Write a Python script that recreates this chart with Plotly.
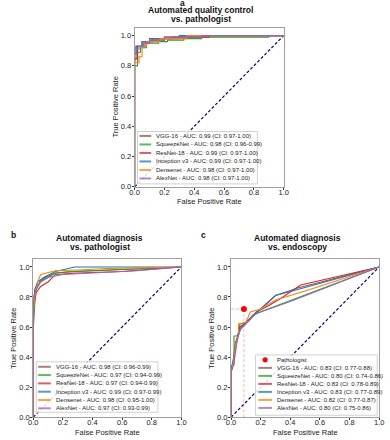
import plotly.graph_objects as go

W, H = 390, 440

def px(x):
    return x / W

def py(y):
    return 1 - y / H

# ---------------- data ----------------
models = ["VGG-16", "SqueezeNet", "ResNet-18", "Inception v3", "Densenet", "AlexNet"]
colors = ["#8c564b", "#2ca02c", "#d62728", "#1f77b4", "#ff7f0e", "#9467bd"]

a_labels = ["VGG-16 - AUC: 0.99 (CI: 0.97-1.00)",
            "SqueezeNet - AUC: 0.98 (CI: 0.96-0.99)",
            "ResNet-18 - AUC: 0.99 (CI: 0.97-1.00)",
            "Inception v3 - AUC: 0.99 (CI: 0.97-1.00)",
            "Densenet - AUC: 0.98 (CI: 0.97-1.00)",
            "AlexNet - AUC: 0.98 (CI: 0.97-1.00)"]
b_labels = ["VGG-16 - AUC: 0.98 (CI: 0.96-0.99)",
            "SqueezeNet - AUC: 0.97 (CI: 0.94-0.99)",
            "ResNet-18 - AUC: 0.97 (CI: 0.94-0.99)",
            "Inception v3 - AUC: 0.99 (CI: 0.97-0.99)",
            "Densenet - AUC: 0.98 (CI: 0.95-1.00)",
            "AlexNet - AUC: 0.97 (CI: 0.93-0.99)"]
c_labels = ["VGG-16 - AUC: 0.83 (CI: 0.77-0.88)",
            "SqueezeNet - AUC: 0.80 (CI: 0.74-0.86)",
            "ResNet-18 - AUC: 0.83 (CI: 0.78-0.89)",
            "Inception v3 - AUC: 0.83 (CI: 0.77-0.89)",
            "Densenet - AUC: 0.82 (CI: 0.77-0.87)",
            "AlexNet - AUC: 0.80 (CI: 0.75-0.86)"]

# panel a: quality control ROC (step curves)
a_fpr = [
    [0, 0, 0.01, 0.01, 0.05, 0.05, 0.12, 0.12, 0.25, 0.25, 0.45, 0.45, 1],
    [0, 0, 0.02, 0.02, 0.04, 0.04, 0.08, 0.08, 0.16, 0.16, 0.22, 0.22, 0.33, 0.33, 0.45, 0.45, 0.9, 0.9, 1],
    [0, 0, 0.02, 0.02, 0.07, 0.07, 0.10, 0.10, 0.20, 0.20, 0.50, 0.50, 1],
    [0, 0, 0.01, 0.01, 0.05, 0.05, 0.10, 0.10, 0.30, 0.30, 1],
    [0, 0, 0.03, 0.03, 0.05, 0.05, 0.08, 0.08, 0.17, 0.17, 0.35, 0.35, 1],
    [0, 0, 0.03, 0.03, 0.06, 0.06, 0.10, 0.10, 0.20, 0.20, 0.45, 0.45, 1],
]
a_tpr = [
    [0, 0.84, 0.84, 0.93, 0.93, 0.96, 0.96, 0.98, 0.98, 0.99, 0.99, 1.0, 1.0],
    [0, 0.80, 0.80, 0.89, 0.89, 0.92, 0.92, 0.95, 0.95, 0.96, 0.96, 0.97, 0.97, 0.98, 0.98, 0.99, 0.99, 1.0, 1.0],
    [0, 0.85, 0.85, 0.93, 0.93, 0.95, 0.95, 0.97, 0.97, 0.99, 0.99, 1.0, 1.0],
    [0, 0.88, 0.88, 0.93, 0.93, 0.96, 0.96, 0.98, 0.98, 1.0, 1.0],
    [0, 0.82, 0.82, 0.86, 0.86, 0.93, 0.93, 0.96, 0.96, 0.98, 0.98, 1.0, 1.0],
    [0, 0.91, 0.91, 0.93, 0.93, 0.95, 0.95, 0.97, 0.97, 0.99, 0.99, 1.0, 1.0],
]

# panel b: diagnosis vs pathologist
b_fpr = [
    [0, 0, 0.01, 0.03, 0.08, 0.15, 0.30, 0.60, 1],
    [0, 0, 0.01, 0.02, 0.05, 0.10, 0.15, 0.25, 0.50, 1],
    [0, 0, 0.01, 0.02, 0.05, 0.10, 0.15, 0.30, 0.60, 1],
    [0, 0, 0.01, 0.03, 0.07, 0.15, 0.28, 1],
    [0, 0, 0.01, 0.03, 0.05, 0.15, 0.30, 0.50, 1],
    [0, 0, 0.02, 0.05, 0.10, 0.20, 0.40, 0.70, 1],
]
b_tpr = [
    [0, 0.72, 0.82, 0.88, 0.93, 0.96, 0.97, 0.985, 1],
    [0, 0.58, 0.75, 0.85, 0.91, 0.93, 0.96, 0.97, 0.98, 1],
    [0, 0.72, 0.78, 0.83, 0.87, 0.90, 0.95, 0.96, 0.97, 1],
    [0, 0.75, 0.85, 0.90, 0.93, 0.97, 1.0, 1],
    [0, 0.70, 0.80, 0.90, 0.95, 0.975, 0.98, 0.99, 1],
    [0, 0.80, 0.85, 0.90, 0.93, 0.95, 0.96, 0.975, 1],
]

# panel c: diagnosis vs endoscopy
c_fpr = [
    [0, 0, 0.01, 0.02, 0.03, 0.05, 0.06, 0.10, 0.15, 0.20, 0.30, 0.45, 1],
    [0, 0, 0.01, 0.02, 0.02, 0.04, 0.05, 0.06, 0.10, 0.17, 1],
    [0, 0, 0.01, 0.03, 0.04, 0.06, 0.09, 0.12, 0.17, 0.25, 0.35, 0.47, 1],
    [0, 0, 0.02, 0.03, 0.05, 0.07, 0.10, 0.15, 0.20, 0.30, 0.45, 1],
    [0, 0, 0.02, 0.03, 0.05, 0.05, 0.10, 0.13, 0.20, 0.30, 0.50, 1],
    [0, 0, 0.02, 0.03, 0.04, 0.06, 0.10, 0.15, 0.20, 0.40, 1],
]
c_tpr = [
    [0, 0.34, 0.34, 0.42, 0.50, 0.55, 0.60, 0.63, 0.68, 0.72, 0.81, 0.86, 1],
    [0, 0.29, 0.35, 0.35, 0.54, 0.54, 0.56, 0.62, 0.63, 0.69, 1],
    [0, 0.30, 0.33, 0.45, 0.52, 0.60, 0.62, 0.64, 0.70, 0.74, 0.80, 0.88, 1],
    [0, 0.32, 0.40, 0.48, 0.55, 0.60, 0.63, 0.68, 0.72, 0.81, 0.85, 1],
    [0, 0.30, 0.38, 0.48, 0.55, 0.62, 0.63, 0.70, 0.72, 0.78, 0.84, 1],
    [0, 0.30, 0.36, 0.44, 0.50, 0.58, 0.62, 0.68, 0.70, 0.77, 1],
]
pathologist_fpr = [0.087]
pathologist_tpr = [0.72]

tick_vals = [0, 0.2, 0.4, 0.6, 0.8, 1.0]
tick_text = ["0.0", "0.2", "0.4", "0.6", "0.8", "1.0"]

titles = [["Automated quality control", "vs. pathologist"],
          ["Automated diagnosis", "vs. pathologist"],
          ["Automated diagnosis", "vs. endoscopy"]]
letters = ["a", "b", "c"]

# ---------------- layout geometry (pixels) ----------------
FONT = "Liberation Sans, Arial, sans-serif"
panels = [
    dict(ax="", x0=133, x1=286, ybot=189, fpr=a_fpr, tpr=a_tpr, labels=a_labels,
         title_y=(10.5, 19.5), title_x=201, letter=(178, 3.5), ytitle_x=113, xtitle_y=204,
         leg_box=(136, 133, 259, 186), leg_row0=137.5, leg_dy=8.6, leg_line=(138, 150), leg_text=153),
    dict(ax="2", x0=29, x1=181, ybot=422, fpr=b_fpr, tpr=b_tpr, labels=b_labels,
         title_y=(241, 250), title_x=97, letter=(4, 238), ytitle_x=9, xtitle_y=437,
         leg_box=(32, 366, 157, 417), leg_row0=371, leg_dy=8.4, leg_line=(34, 47), leg_text=50),
    dict(ax="3", x0=232, x1=384, ybot=422, fpr=c_fpr, tpr=c_tpr, labels=c_labels,
         title_y=(241, 250), title_x=300, letter=(199, 238), ytitle_x=212, xtitle_y=437,
         leg_box=(257, 359, 382, 420), leg_row0=364, leg_dy=8.1, leg_line=(260, 274), leg_text=277),
]

fig = go.Figure()
shapes = []
annotations = []
layout = {}

for k, p in enumerate(panels):
    w = p["x1"] - p["x0"]
    ytop = p["ybot"] - 1.05 * w
    xa = "x" + p["ax"]
    ya = "y" + p["ax"]
    common = dict(showgrid=False, zeroline=False, showline=True, mirror=True,
                  linecolor="#a0a0a0", linewidth=1, ticks="outside", ticklen=2,
                  tickcolor="#333", tickwidth=1,
                  tickfont=dict(size=7.5, color="#222", family=FONT),
                  tickvals=tick_vals, ticktext=tick_text, fixedrange=True)
    layout["xaxis" + p["ax"]] = dict(common, domain=[px(p["x0"]), px(p["x1"])],
                                     range=[0, 1], anchor=ya, ticklabelstandoff=-4)
    layout["yaxis" + p["ax"]] = dict(common, domain=[py(p["ybot"]), py(ytop)],
                                     range=[0, 1.05], anchor=xa, ticklabelstandoff=-1)

    # diagonal
    fig.add_trace(go.Scatter(x=[0, 1], y=[0, 1], mode="lines", xaxis=xa, yaxis=ya,
                             line=dict(color="#000080", width=1.2, dash="3px,2px"),
                             showlegend=False, hoverinfo="skip"))
    # curves
    for i in range(len(models)):
        fig.add_trace(go.Scatter(x=p["fpr"][i], y=p["tpr"][i], mode="lines",
                                 xaxis=xa, yaxis=ya, name=models[i],
                                 line=dict(color=colors[i], width=1.1),
                                 showlegend=False))

    cx = (p["x0"] + p["x1"]) / 2
    for line, yy in zip(titles[k], p["title_y"]):
        annotations.append(dict(text="<b>%s</b>" % line, x=px(p["title_x"]), y=py(yy),
                                xref="paper", yref="paper", showarrow=False,
                                xanchor="center", yanchor="middle",
                                font=dict(size=8.5, color="#111", family=FONT)))
    annotations.append(dict(text="<b>%s</b>" % letters[k],
                            x=px(p["letter"][0]), y=py(p["letter"][1]),
                            xref="paper", yref="paper", showarrow=False,
                            xanchor="left", yanchor="middle",
                            font=dict(size=8.5, color="#111", family=FONT)))
    annotations.append(dict(text="False Positive Rate", x=px(cx), y=py(p["xtitle_y"]),
                            xref="paper", yref="paper", showarrow=False,
                            xanchor="center", yanchor="middle",
                            font=dict(size=7.5, color="#222", family=FONT)))
    annotations.append(dict(text="True Positive Rate", x=px(p["ytitle_x"]),
                            y=py((p["ybot"] + ytop) / 2), textangle=-90,
                            xref="paper", yref="paper", showarrow=False,
                            xanchor="center", yanchor="middle",
                            font=dict(size=7.5, color="#222", family=FONT)))

# pathologist point in panel c
fig.add_trace(go.Scatter(x=[0, pathologist_fpr[0]], y=[pathologist_tpr[0], pathologist_tpr[0]],
                         mode="lines", xaxis="x3", yaxis="y3", showlegend=False,
                         line=dict(color="rgba(255,80,80,0.45)", width=1, dash="3px,2px")))
fig.add_trace(go.Scatter(x=[pathologist_fpr[0], pathologist_fpr[0]], y=[0, pathologist_tpr[0]],
                         mode="lines", xaxis="x3", yaxis="y3", showlegend=False,
                         line=dict(color="rgba(255,80,80,0.45)", width=1, dash="3px,2px")))
fig.add_trace(go.Scatter(x=pathologist_fpr, y=pathologist_tpr, mode="markers",
                         xaxis="x3", yaxis="y3", name="Pathologist", showlegend=False,
                         marker=dict(color="red", size=6)))

# hand-drawn compact legends
for k, p in enumerate(panels):
    bx0, by0, bx1, by1 = p["leg_box"]
    shapes.append(dict(type="rect", xref="paper", yref="paper",
                       x0=px(bx0), x1=px(bx1), y0=py(by1), y1=py(by0),
                       line=dict(color="#d0d0d0", width=1),
                       fillcolor="rgba(255,255,255,0.85)", layer="above"))
    row = 0
    if k == 2:
        yy = p["leg_row0"]
        mx = (p["leg_line"][0] + p["leg_line"][1]) / 2
        shapes.append(dict(type="circle", xref="paper", yref="paper",
                           x0=px(mx - 2.6), x1=px(mx + 2.6), y0=py(yy + 2.6), y1=py(yy - 2.6),
                           fillcolor="red", line=dict(width=0), layer="above"))
        annotations.append(dict(text="Pathologist", x=px(p["leg_text"]), y=py(yy),
                                xref="paper", yref="paper", showarrow=False,
                                xanchor="left", yanchor="middle",
                                font=dict(size=6, color="#222", family=FONT)))
        row = 1
    for lab, col in zip(p["labels"], colors):
        yy = p["leg_row0"] + row * p["leg_dy"]
        shapes.append(dict(type="line", xref="paper", yref="paper",
                           x0=px(p["leg_line"][0]), x1=px(p["leg_line"][1]),
                           y0=py(yy), y1=py(yy), opacity=0.75,
                           line=dict(color=col, width=2), layer="above"))
        annotations.append(dict(text=lab, x=px(p["leg_text"]), y=py(yy),
                                xref="paper", yref="paper", showarrow=False,
                                xanchor="left", yanchor="middle",
                                font=dict(size=6, color="#222", family=FONT)))
        row += 1

fig.update_layout(width=W, height=H, margin=dict(l=0, r=0, t=0, b=0),
                  paper_bgcolor="white", plot_bgcolor="white", showlegend=False,
                  shapes=shapes, annotations=annotations,
                  font=dict(family=FONT), **layout)

fig.write_html("out.html", config={"displayModeBar": False},
               post_script="document.body.style.margin='0';document.body.style.padding='0';")
